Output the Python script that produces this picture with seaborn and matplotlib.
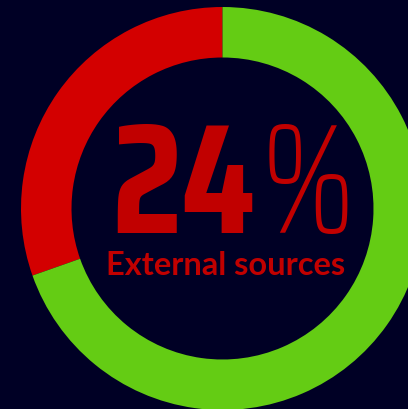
import matplotlib
matplotlib.use('Agg')
import matplotlib.pyplot as plt
import seaborn as sns

sns.set_theme(style='white')

# Data
labels = ['External sources', 'Other']
shares = [30.4, 69.6]
headline = '24'
ring_colors = ['#D30000', '#64CC14']
text_red = '#C10000'
bg = '#000025'

fig = plt.figure(figsize=(4.08, 4.10), dpi=100, facecolor=bg)
ax = fig.add_axes([0, 0, 1, 1])
ax.set_facecolor(bg)

H = 410
ax.pie(shares, colors=ring_colors, startangle=90, counterclock=True,
       radius=201.5, center=(222.5, H - 209.5),
       wedgeprops=dict(width=50.5, linewidth=0))
ax.set_xlim(0, 408)
ax.set_ylim(0, H)
ax.set_aspect('equal')
ax.axis('off')

ax.text(111, H - 233, headline, color=text_red, fontsize=113, family='Saira Condensed',
        weight='bold', ha='left', va='baseline')
ax.text(261, H - 233, '%', color=text_red, fontsize=113, family='Saira Condensed',
        weight='light', ha='left', va='baseline')
ax.text(226, H - 275, labels[0], color=text_red, fontsize=23.5, family='Lato',
        weight='bold', ha='center', va='baseline')

fig.savefig('out.png', dpi=100, facecolor=bg)
